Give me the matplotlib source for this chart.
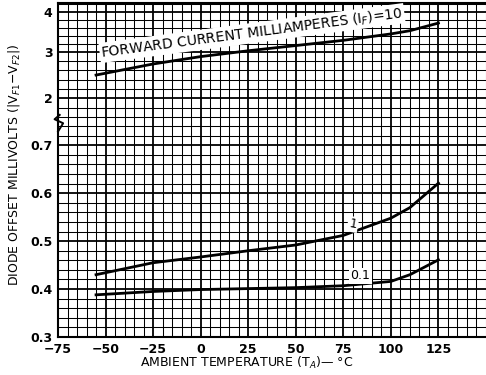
import numpy as np
import matplotlib
matplotlib.use("Agg")
import matplotlib.pyplot as plt
from matplotlib.ticker import FixedLocator, MultipleLocator

# temperatures (deg C) and offset voltages
temp = [-55, -25, 0, 25, 50, 75, 100, 110, 125]
if_10 = [2.50, 2.74, 2.90, 3.03, 3.16, 3.29, 3.45, 3.53, 3.72]
if_1 = [0.430, 0.455, 0.467, 0.480, 0.492, 0.512, 0.548, 0.570, 0.621]
if_01 = [0.388, 0.395, 0.399, 0.401, 0.403, 0.407, 0.416, 0.430, 0.461]

xticks = [-75, -50, -25, 0, 25, 50, 75, 100, 125]
yticks = [0.3, 0.4, 0.5, 0.6, 0.7, 2, 3, 4]
ylabels = ["0.3", "0.4", "0.5", "0.6", "0.7", "2", "3", "4"]

# broken y axis: piecewise linear, value -> paper grid position
yv = [0.3, 0.7, 2.0, 3.0, 4.0, 4.25]
yp = [0.0, 191.0, 238.0, 284.0, 324.0, 334.0]

def fwd(v):
    return np.interp(v, yv, yp)

def inv(p):
    return np.interp(p, yp, yv)

fig = plt.figure(figsize=(4.86, 3.75), dpi=100)
ax = fig.add_axes([58/486, 1-337/375, 1-58/486, 334/375])
ax.set_yscale("function", functions=(fwd, inv))
ax.set_xlim(-75, 150)
ax.set_ylim(0.3, 4.22)

# graph paper grid
ax.xaxis.set_major_locator(FixedLocator(xticks))
ax.xaxis.set_minor_locator(MultipleLocator(5))
ax.yaxis.set_major_locator(FixedLocator(yticks))
ygrid = list(np.arange(0.3, 0.7, 0.02)) + list(0.7 + 0.26 * np.arange(1, 5)) + list(np.arange(2.0, 4.22, 0.2))
ax.yaxis.set_minor_locator(FixedLocator(ygrid))
ax.set_yticklabels(ylabels)
ax.grid(which="major", color="black", lw=1.3)
ax.grid(which="minor", color="black", lw=0.75)
ax.set_axisbelow(True)
ax.tick_params(which="both", length=0, labelsize=9, pad=4)
for t in ax.get_xticklabels() + ax.get_yticklabels():
    t.set_fontweight("bold")
ax.spines["right"].set_visible(False)
for s in ["left", "bottom", "top"]:
    ax.spines[s].set_linewidth(1.5)

ax.plot(temp, if_10, color="black", lw=2)
ax.plot(temp, if_1, color="black", lw=2)
ax.plot(temp, if_01, color="black", lw=2)

box = dict(facecolor="white", edgecolor="none", pad=1)
ax.text(27, 3.47, "FORWARD CURRENT MILLIAMPERES (I$_F$)=10", rotation=7.5,
        ha="center", va="center", fontsize=10, bbox=box)
ax.text(80, 0.535, "1", rotation=-10, ha="center", va="center", fontsize=9, bbox=box)
ax.text(84, 0.428, "0.1", ha="center", va="center", fontsize=9, bbox=box)

# break mark on the y axis
ax.plot([0.0, 0.012, -0.008, 0.004], [0.615, 0.64, 0.652, 0.665], transform=ax.transAxes,
        color="black", lw=1.4, clip_on=False)

ax.set_xlabel("AMBIENT TEMPERATURE (T$_A$)— °C", fontsize=9)
ax.xaxis.set_label_coords(0.44, -0.055)
ax.set_ylabel("DIODE OFFSET MILLIVOLTS (|V$_{F1}$−V$_{F2}$|)", fontsize=9)
ax.yaxis.set_label_coords(-0.085, 0.515)

fig.savefig("out.png", dpi=100)
